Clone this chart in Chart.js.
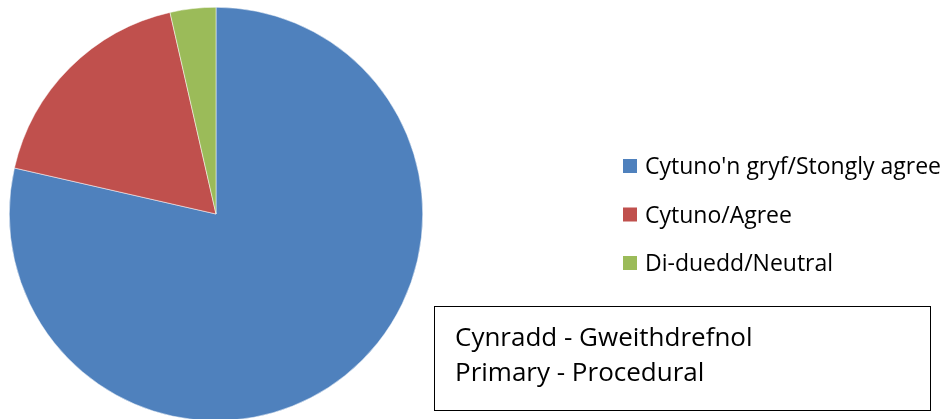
<!DOCTYPE html>
<html>
<head>
<meta charset="utf-8">
<script src="https://cdn.jsdelivr.net/npm/chart.js@4"></script>
<style>
    html, body { margin: 0; padding: 0; background: #fff; overflow: hidden; }
    #wrap { position: relative; width: 950px; height: 419px; overflow: hidden; }
    #note {
        position: absolute; left: 434px; top: 306px; width: 497px; height: 105px;
        border: 1.5px solid #000; box-sizing: border-box;
        font-family: 'Open Sans', sans-serif; font-size: 26px; line-height: 35px;
        padding: 12px 0 0 20px; color: #000;
    }
</style>
</head>
<body>
<div id="wrap">
    <canvas id="pieChart" width="950" height="430"></canvas>
    <div id="note"></div>
</div>
<script>
const labels = ["Cytuno'n gryf/Stongly agree", 'Cytuno/Agree', 'Di-duedd/Neutral'];
const values = [22, 5, 1];
const colors = ['#4F81BD', '#C0504D', '#9BBB59'];
const noteLines = ['Cynradd - Gweithdrefnol', 'Primary - Procedural'];

document.getElementById('note').innerHTML = noteLines.join('<br>');

// legend drawn by hand so it can sit where the original has it
const sideLegend = {
    id: 'sideLegend',
    afterDraw(chart) {
        const ctx = chart.ctx;
        const ds = chart.data.datasets[0];
        ctx.save();
        ctx.font = '23px "Open Sans", sans-serif';
        ctx.textBaseline = 'alphabetic';
        chart.data.labels.forEach((lab, i) => {
            const y = 174 + i * 48.5;
            ctx.fillStyle = ds.backgroundColor[i];
            ctx.fillRect(623, y - 15, 14, 14);
            ctx.fillStyle = '#000';
            ctx.fillText(lab, 645, y);
        });
        ctx.restore();
    }
};

const ctx = document.getElementById('pieChart').getContext('2d');
new Chart(ctx, {
    type: 'pie',
    data: {
        labels: labels,
        datasets: [{
            data: values,
            backgroundColor: colors,
            borderColor: '#ffffff',
            borderWidth: 0.5
        }]
    },
    options: {
        responsive: false,
        animation: false,
        events: [],
        layout: {
            padding: { left: 9, top: 7, right: 527, bottom: 9 }
        },
        plugins: {
            legend: { display: false },
            tooltip: { enabled: false }
        }
    },
    plugins: [sideLegend]
});
</script>
</body>
</html>
